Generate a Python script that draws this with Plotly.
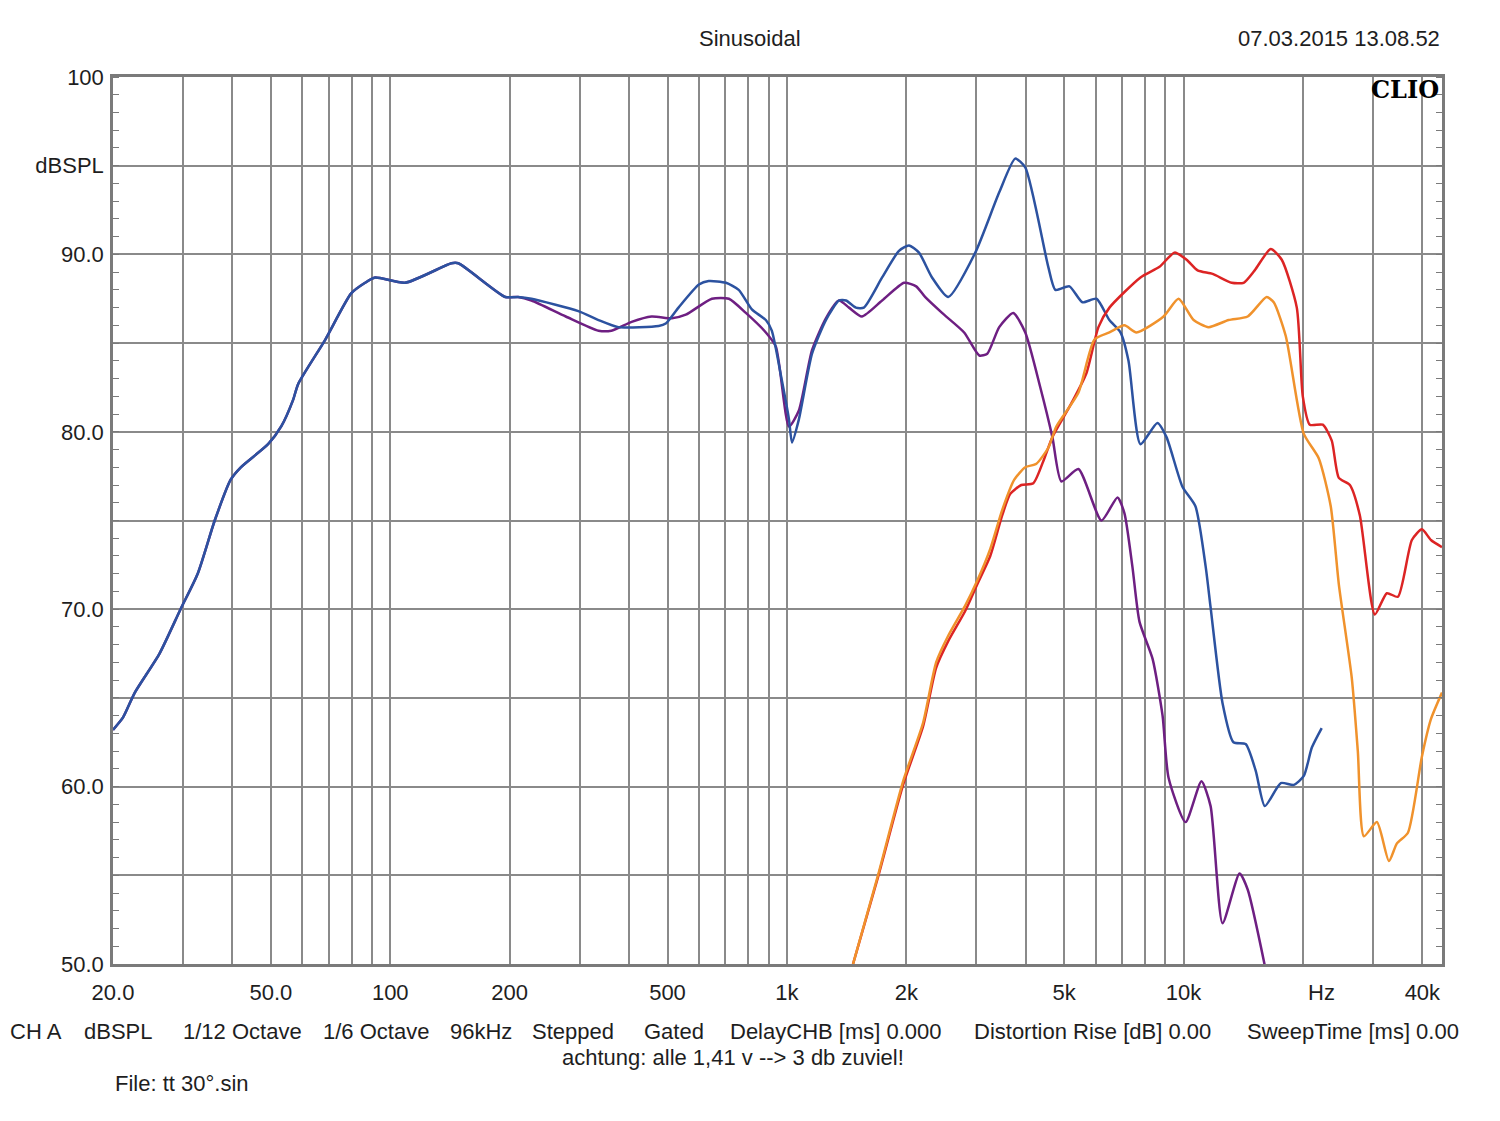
import plotly.graph_objects as go
import math

# ---- Data (frequency in Hz, level in dBSPL) ----
blue_f = [20, 21.2, 22.7, 26.2, 29.6, 32.7, 36.1, 39.6, 42.0, 49.2, 53.1, 56.9, 58.6, 68.6, 79.7,
          86.4, 91.6, 109, 142.6, 148.5, 195, 210, 227, 298, 335, 376, 475, 495, 533, 600, 635,
          702, 756, 816, 885, 916, 971, 1012, 1030, 1072, 1157, 1254, 1353, 1409, 1493, 1563,
          1738, 1917, 2031, 2153, 2322, 2551, 2985, 3430, 3764, 3990, 4560, 4753, 5155, 5559,
          6031, 6501, 6934, 7264, 7786, 8592, 9058, 9936, 10714, 11370, 11700, 12540, 13360,
          14340, 15200, 16030, 17590, 18970, 20100, 21060, 22300]
blue_db = [63.2, 63.9, 65.3, 67.5, 70.0, 72.0, 75.0, 77.3, 78.0, 79.3, 80.3, 81.8, 82.7, 85.2, 87.8,
           88.4, 88.7, 88.4, 89.5, 89.5, 87.6, 87.6, 87.5, 86.8, 86.3, 85.9, 85.96, 86.1, 87.0, 88.3, 88.5,
           88.4, 88.0, 86.9, 86.3, 85.7, 82.9, 80.7, 79.4, 80.7, 84.4, 86.3, 87.4, 87.4, 87.0, 87.0,
           88.7, 90.2, 90.5, 90.1, 88.7, 87.6, 90.1, 93.5, 95.4, 94.9, 89.3, 88.0, 88.2, 87.3,
           87.5, 86.3, 85.6, 84.0, 79.3, 80.5, 79.7, 76.9, 75.8, 72.4, 70.1, 64.7, 62.5,
           62.4, 60.9, 58.9, 60.2, 60.1, 60.6, 62.2, 63.3]

purple_f = [20, 21.2, 22.7, 26.2, 29.6, 32.7, 36.1, 39.6, 42.0, 49.2, 53.1, 56.9, 58.6, 68.6, 79.7,
            86.4, 91.6, 109, 142.6, 148.5, 195, 210, 227, 277, 335, 361, 406, 456, 513, 556, 647,
            714, 788, 885, 938, 1012, 1072, 1157, 1254, 1353, 1434, 1546, 1738, 1975, 2118, 2230,
            2461, 2798, 3055, 3200, 3430, 3720, 3990, 4354, 4670, 4920, 5430, 6210, 6815, 7096,
            7431, 7742, 8355, 8853, 9166, 10117, 11094, 11700, 12540, 13840, 14510, 16030]
purple_db = [63.2, 63.9, 65.3, 67.5, 70.0, 72.0, 75.0, 77.3, 78.0, 79.3, 80.3, 81.8, 82.7, 85.2, 87.8,
             88.4, 88.7, 88.4, 89.5, 89.5, 87.6, 87.6, 87.4, 86.5, 85.7, 85.7, 86.2, 86.5, 86.4, 86.6, 87.5,
             87.5, 86.7, 85.6, 84.8, 80.3, 81.2, 84.6, 86.4, 87.4, 87.0, 86.5, 87.4, 88.4, 88.2, 87.6,
             86.7, 85.6, 84.3, 84.4, 85.9, 86.7, 85.6, 82.5, 79.7, 77.2, 77.9, 75.0, 76.3, 75.4,
             72.4, 69.3, 67.2, 64.0, 60.5, 58.0, 60.3, 58.9, 52.3, 55.1, 54.2, 49.9]

red_f = [1468, 1697, 1963, 2205, 2378, 2551, 2815, 3018, 3256, 3491, 3657, 3899, 4181, 4457, 4670,
         5214, 5690, 6101, 6504, 7789, 8698, 9491, 10176, 10849, 11838, 13219, 14174, 15112,
         16584, 17685, 19298, 19980, 20810, 22440, 23640, 24630, 26260, 27820, 30360, 32550,
         34710, 37640, 39900, 42040, 44830]
red_db = [50.0, 54.9, 60.1, 63.4, 66.7, 68.2, 69.9, 71.4, 73.0, 75.3, 76.5, 77.0, 77.1, 78.5, 79.7,
          81.6, 83.3, 85.9, 87.0, 88.7, 89.3, 90.1, 89.7, 89.1, 88.9, 88.4, 88.4, 89.1,
          90.3, 89.7, 87.0, 82.0, 80.4, 80.4, 79.5, 77.4, 77.0, 75.3, 69.7, 70.9,
          70.7, 73.9, 74.5, 73.9, 73.5]

orange_f = [1468, 1697, 1963, 2205, 2378, 2551, 2815, 3018, 3256, 3491, 3743, 3990, 4256, 4561, 4778,
            5430, 5962, 6504, 7096, 7608, 8903, 9714, 10600, 11565, 12990, 14510, 16200, 16880,
            18100, 20090, 21930, 23500, 24630, 26560, 27500, 28490, 30720, 32940, 34510, 36790,
            39900, 42040, 44830]
orange_db = [50.0, 55.0, 60.3, 63.6, 67.0, 68.5, 70.2, 71.6, 73.4, 75.6, 77.3, 78.0, 78.2, 79.1, 80.3,
             82.2, 85.2, 85.6, 86.0, 85.6, 86.5, 87.5, 86.3, 85.9, 86.3, 86.5, 87.6, 87.3,
             85.4, 79.9, 78.5, 75.8, 71.4, 66.1, 62.0, 57.2, 58.0, 55.8, 56.8, 57.4,
             61.7, 63.8, 65.3]

grid_freqs = [20, 30, 40, 50, 60, 70, 80, 90, 100, 200, 300, 400, 500, 600, 700, 800, 900,
              1000, 2000, 3000, 4000, 5000, 6000, 7000, 8000, 9000, 10000, 20000, 30000, 40000]
freq_labels = {20: "20.0", 50: "50.0", 100: "100", 200: "200", 500: "500", 1000: "1k",
               2000: "2k", 5000: "5k", 10000: "10k", 40000: "40k"}
y_ticks = [50, 55, 60, 65, 70, 75, 80, 85, 90, 95, 100]
y_labels = ["50.0", "", "60.0", "", "70.0", "", "80.0", "", "90.0", "dBSPL", "100"]

bottom_items = [("CH A", 8), ("dBSPL", 82), ("1/12 Octave", 181), ("1/6 Octave", 321),
                ("96kHz", 448), ("Stepped", 530), ("Gated", 642), ("DelayCHB [ms] 0.000", 728),
                ("Distortion Rise [dB] 0.00", 972), ("SweepTime [ms] 0.00", 1245)]

FONT = "Liberation Sans, Arial, sans-serif"
GRID = "#8a8a8a"
TXT = "#1e1e1e"

def line(color):
    return dict(color=color, width=2.5, shape="spline", smoothing=0.6)

fig = go.Figure()
fig.add_trace(go.Scatter(x=purple_f, y=purple_db, mode="lines", line=line("#6e1f82")))
fig.add_trace(go.Scatter(x=blue_f, y=blue_db, mode="lines", line=line("#2c52a0")))
fig.add_trace(go.Scatter(x=red_f, y=red_db, mode="lines", line=line("#dc2424")))
fig.add_trace(go.Scatter(x=orange_f, y=orange_db, mode="lines", line=line("#f0922c")))
# invisible trace to activate the right-hand y axis
fig.add_trace(go.Scatter(x=[1000], y=[75], yaxis="y2", mode="markers", marker=dict(opacity=0), hoverinfo="skip"))

fig.update_layout(
    width=1500, height=1121,
    margin=dict(l=113, r=58, t=77, b=157),
    paper_bgcolor="white", plot_bgcolor="white",
    showlegend=False,
    font=dict(family=FONT, size=22, color=TXT),
    xaxis=dict(
        type="log", range=[math.log10(20), math.log10(44830)],
        tickvals=grid_freqs,
        ticktext=[freq_labels.get(f, "") for f in grid_freqs],
        showgrid=True, gridcolor=GRID, gridwidth=1.5,
        ticks="", ticklabelstandoff=7,
        showline=True, linecolor="#7a7a7a", linewidth=2.5, mirror=True,
        zeroline=False, tickfont=dict(size=22, family=FONT, color=TXT),
    ),
    yaxis=dict(
        range=[50, 100], tickvals=y_ticks, ticktext=y_labels,
        showgrid=True, gridcolor=GRID, gridwidth=1.5,
        ticks="", ticklabelstandoff=2,
        minor=dict(dtick=1, ticks="inside", ticklen=6, tickcolor="#7a7a7a", tickwidth=1.2, showgrid=False),
        showline=True, linecolor="#7a7a7a", linewidth=2.5, mirror=True,
        zeroline=False, tickfont=dict(size=22, family=FONT, color=TXT),
    ),
    yaxis2=dict(
        range=[50, 100], overlaying="y", side="right", showgrid=False,
        showticklabels=False, ticks="", tickvals=y_ticks,
        minor=dict(dtick=1, ticks="inside", ticklen=6, tickcolor="#7a7a7a", tickwidth=1.2, showgrid=False),
        zeroline=False,
    ),
)

annotations = [
    dict(text="Sinusoidal", xref="paper", yref="paper", x=(750 - 113) / 1329, y=1 + (77 - 39) / 887,
         xanchor="center", yanchor="middle", showarrow=False, font=dict(size=22, family=FONT, color=TXT)),
    dict(text="07.03.2015 13.08.52", xref="paper", yref="paper", x=1.0, y=1 + (77 - 39) / 887,
         xanchor="right", yanchor="middle", showarrow=False, font=dict(size=22, family=FONT, color=TXT)),
    dict(text="<b>CLIO</b>", xref="paper", yref="paper", x=(1441 - 113) / 1329, y=1 - (89 - 77) / 887,
         xanchor="right", yanchor="middle", showarrow=False,
         font=dict(size=24, family="DejaVu Serif, Liberation Serif, serif", color="#000000")),
    dict(text="achtung: alle 1,41 v --> 3 db zuviel!", xref="paper", yref="paper",
         x=(733 - 113) / 1329, y=-(1057 - 964) / 887, xanchor="center", yanchor="middle",
         showarrow=False, font=dict(size=22, family=FONT, color=TXT)),
    dict(text="File: tt 30°.sin", xref="paper", yref="paper",
         x=0, y=-(1083 - 964) / 887, xanchor="left", yanchor="middle",
         showarrow=False, font=dict(size=22, family=FONT, color=TXT)),
]
for txt, px in bottom_items:
    annotations.append(dict(text=txt, xref="paper", yref="paper", x=(px - 113) / 1329,
                            y=-(1031 - 964) / 887, xanchor="left", yanchor="middle",
                            showarrow=False, font=dict(size=22, family=FONT, color=TXT)))
# "Hz" unit label placed near the 20k gridline
annotations.append(dict(text="Hz", xref="paper", yref="paper", x=(1321 - 113) / 1329,
                        y=-(992 - 964) / 887, xanchor="center", yanchor="middle",
                        showarrow=False, font=dict(size=22, family=FONT, color=TXT)))
fig.update_layout(annotations=annotations)

fig.write_html("out.html")
